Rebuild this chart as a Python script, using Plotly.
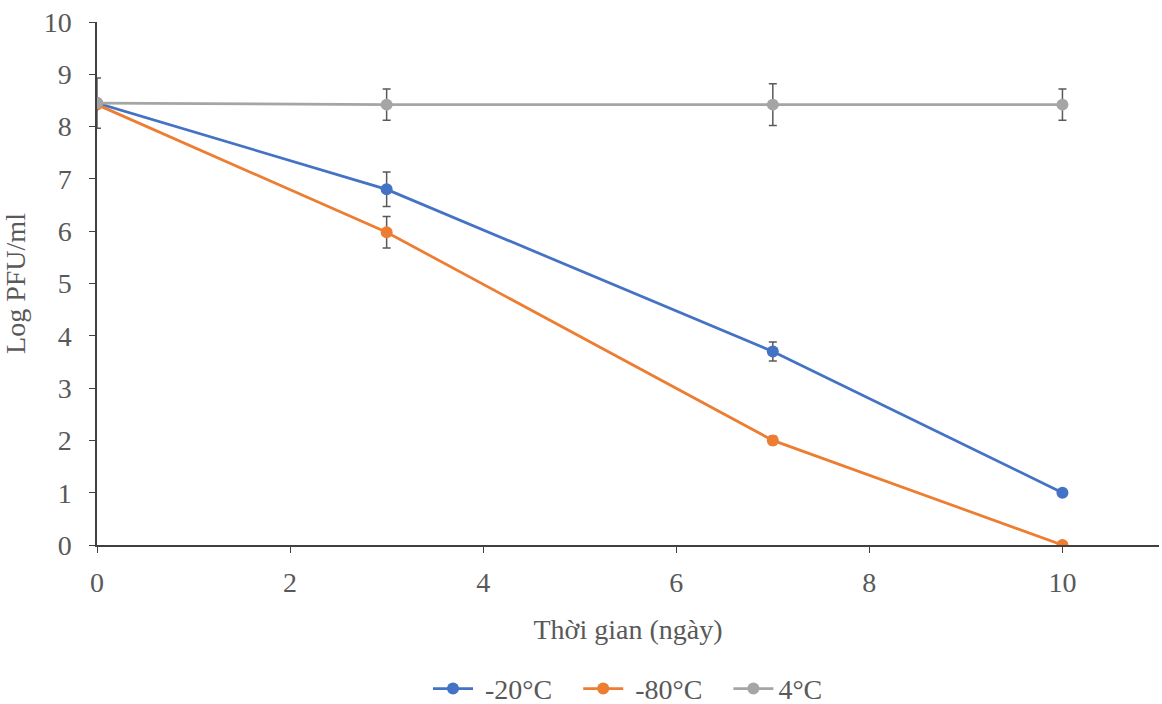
import plotly.graph_objects as go

days = [0, 3, 7, 10]

series_names = ["\u00a0-20°C\u00a0\u00a0\u00a0", "\u00a0-80°C\u00a0\u00a0\u00a0", "4°C"]
minus20 = [8.45, 6.80, 3.70, 1.00]
minus20_err = [0.0, 0.33, 0.18, 0.03]
minus80 = [8.42, 5.98, 2.00, 0.00]
minus80_err = [0.0, 0.30, 0.08, 0.0]
plus4 = [8.45, 8.42, 8.42, 8.42]
plus4_err = [0.48, 0.30, 0.40, 0.30]

colors = ["#4472C4", "#ED7D31", "#A5A5A5"]
font_family = "Liberation Serif, Times New Roman, serif"
text_color = "#595959"
fsize = 28

fig = go.Figure()
for name, vals, errs, col in zip(series_names,
                                 [minus20, minus80, plus4],
                                 [minus20_err, minus80_err, plus4_err],
                                 colors):
    fig.add_trace(go.Scatter(
        x=days, y=vals, name=name, mode="lines+markers",
        line=dict(color=col, width=2.75),
        marker=dict(color=col, size=12),
        error_y=dict(type="data", array=errs, visible=True,
                     color="#595959", thickness=1.5, width=4),
    ))

fig.update_layout(
    width=1162, height=704,
    margin=dict(l=97, r=3, t=22, b=159, autoexpand=False),
    paper_bgcolor="white", plot_bgcolor="white",
    font=dict(family=font_family, size=fsize, color=text_color),
    showlegend=True,
    legend=dict(orientation="h", x=0.5, xanchor="center", y=-0.275, yanchor="middle",
                font=dict(size=fsize, color=text_color), itemwidth=40),
    xaxis=dict(
        range=[0, 11], tickmode="array", tickvals=[0, 2, 4, 6, 8, 10],
        showline=True, linecolor="#404040", linewidth=1.5,
        ticks="outside", ticklen=6, tickcolor="#404040",
        showgrid=False, zeroline=False, automargin=False,
        ticklabelstandoff=6,
        title=dict(text="Thời gian (ngày)", standoff=22,
                   font=dict(size=fsize, color=text_color)),
        tickfont=dict(size=fsize, color=text_color),
    ),
    yaxis=dict(
        range=[0, 10], dtick=1,
        showline=True, linecolor="#404040", linewidth=1.5,
        ticks="outside", ticklen=6, tickcolor="#404040",
        showgrid=False, zeroline=False, automargin=False,
        ticklabelstandoff=12,
        title=dict(text="Log PFU/ml", standoff=12,
                   font=dict(size=fsize, color=text_color)),
        tickfont=dict(size=fsize, color=text_color),
    ),
)

fig.write_html("out.html")
